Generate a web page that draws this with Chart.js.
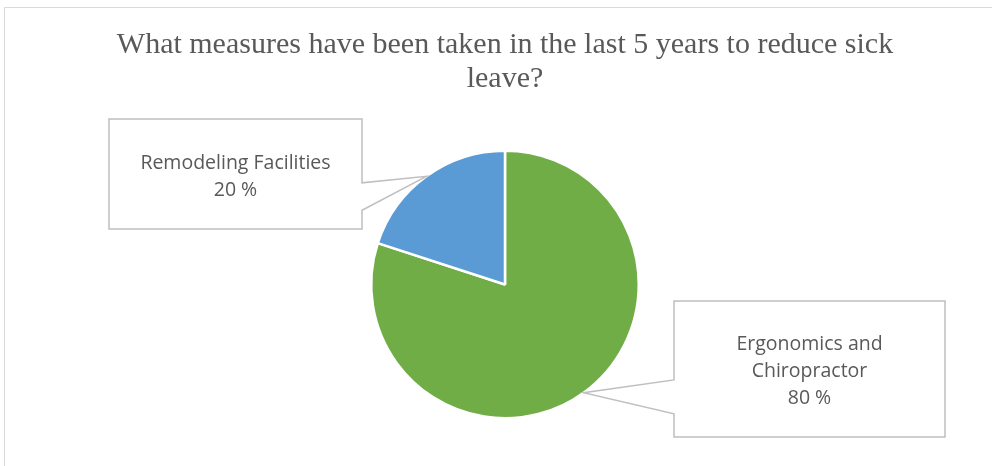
<!DOCTYPE html>
<html>
<head>
<meta charset="utf-8">
<script src="https://cdn.jsdelivr.net/npm/chart.js@4.4.1/dist/chart.umd.min.js"></script>
<style>
  html, body { margin: 0; padding: 0; background: #ffffff; }
  #wrap { width: 992px; height: 466px; position: relative; }
</style>
</head>
<body>
<div id="wrap"><canvas id="c" width="992" height="466"></canvas></div>
<script>
// ---- Data ----
const categories = ["Ergonomics and Chiropractor", "Remodeling Facilities"];
const values = [80, 20];
const labelLines = [["Ergonomics and", "Chiropractor"], ["Remodeling Facilities"]];
const colors = ["#70AD47", "#5B9BD5"];
const titleLines = ["What measures have been taken in the last 5 years to reduce sick", "leave?"];

// callout box layout (annotation boxes), [left, top, right, bottom]
const boxes = [
  [674, 301, 945, 437],
  [109, 119, 362, 229]
];

const calloutPlugin = {
  id: 'callouts',
  beforeDraw(chart) {
    const ctx = chart.ctx;
    ctx.save();
    ctx.strokeStyle = '#D9D9D9';
    ctx.lineWidth = 1;
    ctx.beginPath();
    ctx.moveTo(4.5, 470);
    ctx.lineTo(4.5, 7.5);
    ctx.lineTo(1000, 7.5);
    ctx.stroke();
    // title
    ctx.fillStyle = '#595959';
    ctx.font = '30px "Liberation Serif", "Times New Roman", serif';
    ctx.textAlign = 'center';
    ctx.textBaseline = 'alphabetic';
    titleLines.forEach((s, k) => ctx.fillText(s, 505, 53 + k * 34));
    ctx.restore();
  },
  afterDatasetsDraw(chart) {
    const ctx = chart.ctx;
    const meta = chart.getDatasetMeta(0);
    const total = values.reduce((a, b) => a + b, 0);
    meta.data.forEach((arc, i) => {
      const mid = (arc.startAngle + arc.endAngle) / 2;
      const tx = arc.x + Math.cos(mid) * arc.outerRadius;
      const ty = arc.y + Math.sin(mid) * arc.outerRadius;
      const [l, t, r, b] = boxes[i];
      const h = b - t;
      ctx.save();
      ctx.beginPath();
      const y1 = t + h * 0.58, y2 = t + h * 0.83;
      if (tx > r) {
        ctx.moveTo(l, t); ctx.lineTo(r, t); ctx.lineTo(r, y1);
        ctx.lineTo(tx, ty); ctx.lineTo(r, y2); ctx.lineTo(r, b); ctx.lineTo(l, b);
      } else {
        ctx.moveTo(l, t); ctx.lineTo(r, t); ctx.lineTo(r, b); ctx.lineTo(l, b);
        ctx.lineTo(l, y2); ctx.lineTo(tx, ty); ctx.lineTo(l, y1);
      }
      ctx.closePath();
      ctx.fillStyle = '#ffffff';
      ctx.fill();
      ctx.strokeStyle = '#BFBFBF';
      ctx.lineWidth = 1.5;
      ctx.stroke();

      const lines = labelLines[i].concat([Math.round(values[i] / total * 100) + ' %']);
      ctx.fillStyle = '#595959';
      ctx.font = '19.5px "Open Sans"';
      ctx.textAlign = 'center';
      ctx.textBaseline = 'alphabetic';
      const lh = 27;
      const cx = (l + r) / 2;
      const cy = (t + b) / 2;
      const firstBase = cy - (lines.length - 1) * lh / 2 + 8;
      lines.forEach((s, k) => ctx.fillText(s, cx, firstBase + k * lh));
      ctx.restore();
    });
  }
};

new Chart(document.getElementById('c'), {
  type: 'pie',
  data: {
    labels: categories,
    datasets: [{
      data: values,
      backgroundColor: colors,
      borderColor: '#ffffff',
      borderWidth: 2.5
    }]
  },
  options: {
    responsive: false,
    animation: false,
    layout: { padding: { top: 149, bottom: 46, left: 370, right: 352 } },
    plugins: {
      legend: { display: false },
      tooltip: { enabled: false },
      title: { display: false }
    }
  },
  plugins: [calloutPlugin]
});
</script>
</body>
</html>
